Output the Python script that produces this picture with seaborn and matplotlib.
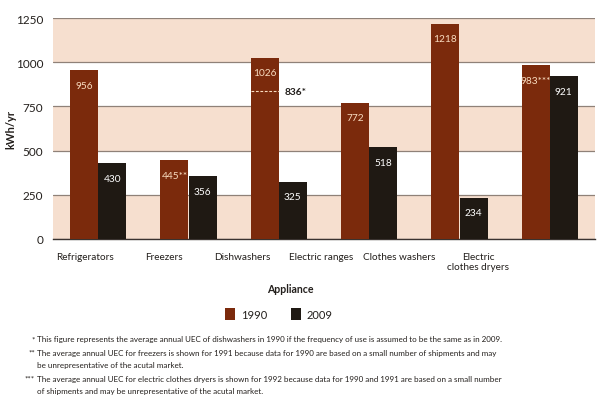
import numpy as np
import pandas as pd
import seaborn as sns
import matplotlib.pyplot as plt
from matplotlib.ticker import FixedLocator

# data
appliances = ["Refrigerators", "Freezers", "Dishwashers", "Electric ranges",
              "Clothes washers", "Electric\nclothes dryers"]
uec_1990 = [956, 445, 1026, 772, 1218, 983]
uec_2009 = [430, 356, 325, 518, 234, 921]
labels_1990 = ["956", "445**", "1026", "772", "1218", "983***"]
labels_2009 = ["430", "356", "325", "518", "234", "921"]
dish_same_use = 836
years = ["1990", "2009"]
footnotes = [
    ("*", ["This figure represents the average annual UEC of dishwashers in 1990 if the frequency of use is assumed to be the same as in 2009."]),
    ("**", ["The average annual UEC for freezers is shown for 1991 because data for 1990 are based on a small number of shipments and may",
            "be unrepresentative of the acutal market."]),
    ("***", ["The average annual UEC for electric clothes dryers is shown for 1992 because data for 1990 and 1991 are based on a small number",
             "of shipments and may be unrepresentative of the acutal market."]),
]

df = pd.DataFrame({
    "Appliance": appliances * 2,
    "Year": [years[0]] * len(appliances) + [years[1]] * len(appliances),
    "kWh": uec_1990 + uec_2009,
})

sns.set_style("white")
plt.rcParams['font.family'] = ['Lato', 'DejaVu Sans']

c1990 = "#7b2a0c"
c2009 = "#1f1913"
peach = "#f6dfcf"
txt = "#231f1c"

fig = plt.figure(figsize=(6.0, 4.06), dpi=100)
ax = fig.add_axes([53 / 600, 1 - 240 / 406, 542 / 600, 221 / 406])

# background bands
for lo in (0, 500, 1000):
    ax.axhspan(lo, lo + 250, color=peach, zorder=0, lw=0)

sns.barplot(data=df, x="Appliance", y="kWh", hue="Year", order=appliances,
            palette=[c1990, c2009], width=0.62, gap=0, saturation=1,
            errorbar=None, ax=ax, zorder=3, linewidth=0, edgecolor='none')

ax.set_ylim(0, 1250)
ax.set_xlim(-0.5, len(appliances) - 0.5)
ax.set_yticks([0, 250, 500, 750, 1000, 1250])
ax.grid(axis='y', color="#8f8178", lw=0.9, zorder=1)
ax.set_axisbelow(True)
ax.tick_params(axis='y', length=0, labelsize=8.5, labelcolor=txt, pad=7)

for s in ("top", "right", "left"):
    ax.spines[s].set_visible(False)
ax.spines["bottom"].set_color("#3a3330")
ax.spines["bottom"].set_linewidth(1.0)

# category labels (spaced as in the original print layout)
lab_pos = -0.146 + np.arange(len(appliances)) * 0.87
ax.set_xticks(lab_pos)
ax.set_xticklabels(appliances, fontsize=7.2, color=txt, linespacing=1.15)
ax.tick_params(axis='x', which='major', length=0, pad=9)
ax.xaxis.set_minor_locator(FixedLocator(np.arange(len(appliances)) + 0.5))
ax.tick_params(axis='x', which='minor', direction='in', length=7, width=0.9, color="#3a3330")

ax.set_ylabel("kWh/yr", fontsize=8, fontweight='bold', color=txt)
ax.yaxis.set_label_coords(-0.067, 0.5)
ax.set_xlabel("Appliance", fontsize=7.6, fontweight='bold', color=txt)
ax.xaxis.set_label_coords(0.437, -0.2)

# value labels inside bars
for cont, labs, col in zip(ax.containers, [labels_1990, labels_2009], ["#f9dcc0", "white"]):
    for bar, lab in zip(cont, labs):
        ax.annotate(lab, (bar.get_x() + bar.get_width() / 2, bar.get_height()),
                    xytext=(0, -11), textcoords='offset points', ha='center', va='center',
                    fontsize=7.3, color=col, zorder=5)

# dishwasher same-frequency marker
dbar = ax.containers[0][appliances.index("Dishwashers")]
ax.hlines(dish_same_use, dbar.get_x(), dbar.get_x() + dbar.get_width(),
          colors="#f9dcc0", linestyles=(0, (2.5, 1.5)), lw=0.8, zorder=5)
ax.annotate(f"{dish_same_use}*", (dbar.get_x() + dbar.get_width(), dish_same_use),
            xytext=(4, 0), textcoords='offset points', ha='left', va='center',
            fontsize=7.3, fontweight='bold', color=txt)

# legend
handles, labels = ax.get_legend_handles_labels()
ax.get_legend().remove()
fig.legend(handles, labels, loc='center', bbox_to_anchor=(279 / 600, 1 - 315 / 406),
           ncol=2, frameon=False, fontsize=8, handlelength=0.9, handleheight=1.2,
           handletextpad=0.5, columnspacing=2.2, labelcolor=txt)

# footnotes
y = 340
for star, lines in footnotes:
    fig.text(35 / 600, 1 - y / 406, star, ha='right', va='center', fontsize=5.8, color=txt)
    for ln in lines:
        fig.text(37 / 600, 1 - y / 406, ln, ha='left', va='center', fontsize=5.8, color=txt)
        y += 12.5
    y += 1

fig.savefig("out.png", dpi=100)
plt.close()
